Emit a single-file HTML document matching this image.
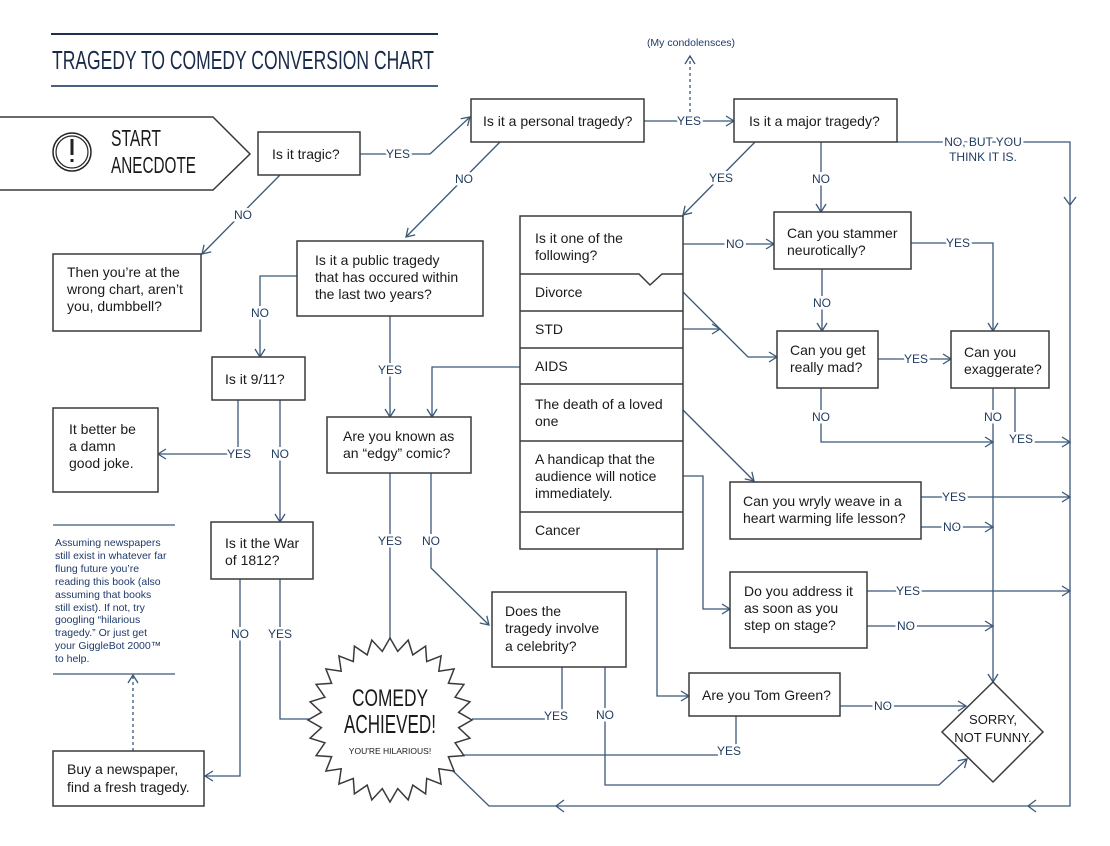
<!DOCTYPE html>
<html><head><meta charset="utf-8">
<style>
html,body{margin:0;padding:0;background:#fff;}
svg{display:block;}
.b{fill:#fff;stroke:#3a3a3a;stroke-width:1.5;}
.t{font-family:"Liberation Sans",sans-serif;font-size:14px;fill:#1a1a1a;}
.l{fill:none;stroke:#3b5878;stroke-width:1.3;}
.lb{font-family:"Liberation Sans Narrow","Liberation Sans",sans-serif;font-size:12px;fill:#1f3a5f;text-anchor:middle;stroke:#fff;stroke-width:5px;paint-order:stroke;}
.n{font-family:"Liberation Sans",sans-serif;font-size:10.5px;fill:#1f3a6a;}
</style></head>
<body>
<svg width="1110" height="846" viewBox="0 0 1110 846" xmlns="http://www.w3.org/2000/svg">
<defs>
<marker id="a" markerUnits="userSpaceOnUse" markerWidth="12" markerHeight="12" refX="9" refY="6" orient="auto">
<path d="M1,1 L9,6 L1,11" fill="none" stroke="#3b5878" stroke-width="1.3"/>
</marker>
</defs>

<!-- title -->
<line x1="51" y1="34" x2="438" y2="34" stroke="#1f2f50" stroke-width="2"/>
<line x1="51" y1="86" x2="438" y2="86" stroke="#4a6080" stroke-width="2"/>
<text x="52" y="69" font-family="'Liberation Sans Narrow','Liberation Sans',sans-serif" font-size="26" fill="#1a2a4a" textLength="382" lengthAdjust="spacingAndGlyphs">TRAGEDY TO COMEDY CONVERSION CHART</text>

<!-- start -->
<path d="M0,117 H213 L250,154 L213,190 H0" class="b"/>
<circle cx="72" cy="152" r="19" fill="none" stroke="#222" stroke-width="1.5"/>
<circle cx="72" cy="152" r="16" fill="none" stroke="#222" stroke-width="1.2"/>
<rect x="70.5" y="139" width="3" height="16" fill="#222"/>
<rect x="70.5" y="159" width="3" height="3" fill="#222"/>
<text x="111" y="146" font-family="'Liberation Sans Narrow','Liberation Sans',sans-serif" font-size="23" fill="#1a1a1a" textLength="50" lengthAdjust="spacingAndGlyphs">START</text>
<text x="111" y="173" font-family="'Liberation Sans Narrow','Liberation Sans',sans-serif" font-size="23" fill="#1a1a1a" textLength="85" lengthAdjust="spacingAndGlyphs">ANECDOTE</text>

<!-- connectors -->
<g class="l">
<path d="M360,154 H430 L470,117" marker-end="url(#a)"/>
<path d="M280,175 L202,254" marker-end="url(#a)"/>
<path d="M500,142 L406,237" marker-end="url(#a)"/>
<path d="M644,121 H734" marker-end="url(#a)"/>
<path d="M690,112 V56" stroke-dasharray="3,3" marker-end="url(#a)"/>
<path d="M897,142 H1070 V806 H489 L452,770"/>
<polyline points="1064,197 1070,205 1076,197"/>
<polyline points="1036,800 1028,806 1036,812"/>
<polyline points="564,800 556,806 564,812"/>
<path d="M755,142 L683,215" marker-end="url(#a)"/>
<path d="M821,142 V212" marker-end="url(#a)"/>
<path d="M297,276 H260 V357" marker-end="url(#a)"/>
<path d="M390,316 V417" marker-end="url(#a)"/>
<path d="M520,367 H432 V417" marker-end="url(#a)"/>
<path d="M683,244 H774" marker-end="url(#a)"/>
<path d="M911,243 H993 V331" marker-end="url(#a)"/>
<path d="M822,269 V331" marker-end="url(#a)"/>
<path d="M878,359 H951" marker-end="url(#a)"/>
<path d="M683,292 L748,357 H777" marker-end="url(#a)"/>
<path d="M683,329 H720" marker-end="url(#a)"/>
<path d="M821,388 V442 H993" marker-end="url(#a)"/>
<path d="M993,388 V682" marker-end="url(#a)"/>
<path d="M1015,388 V442 H1070" marker-end="url(#a)"/>
<path d="M683,410 L754,481" marker-end="url(#a)"/>
<path d="M683,476 H703 V609 H730" marker-end="url(#a)"/>
<path d="M921,497 H1070" marker-end="url(#a)"/>
<path d="M921,527 H993" marker-end="url(#a)"/>
<path d="M867,591 H1070" marker-end="url(#a)"/>
<path d="M867,626 H993" marker-end="url(#a)"/>
<path d="M657,549 V696 H689" marker-end="url(#a)"/>
<path d="M840,706 H966" marker-end="url(#a)"/>
<path d="M736,716 V755 H463"/>
<path d="M562,667 V719 H472"/>
<path d="M605,667 V785 H939 L967,759" marker-end="url(#a)"/>
<path d="M390,473 V640"/>
<path d="M431,473 V568 L489,625" marker-end="url(#a)"/>
<path d="M238,400 V454 H158" marker-end="url(#a)"/>
<path d="M280,400 V522" marker-end="url(#a)"/>
<path d="M240,579 V776 H205" marker-end="url(#a)"/>
<path d="M280,579 V719 H310"/>
<path d="M133,751 V675" stroke-dasharray="3,3" marker-end="url(#a)"/>
</g>

<!-- labels -->
<g class="lb">
<text x="398" y="158">YES</text>
<text x="243" y="219">NO</text>
<text x="464" y="183">NO</text>
<text x="689" y="125">YES</text>
<text x="983" y="146">NO, BUT YOU</text>
<text x="983" y="161">THINK IT IS.</text>
<text x="721" y="182">YES</text>
<text x="821" y="183">NO</text>
<text x="260" y="317">NO</text>
<text x="390" y="374">YES</text>
<text x="735" y="248">NO</text>
<text x="958" y="247">YES</text>
<text x="822" y="307">NO</text>
<text x="916" y="363">YES</text>
<text x="821" y="421">NO</text>
<text x="993" y="421">NO</text>
<text x="1021" y="443">YES</text>
<text x="954" y="501">YES</text>
<text x="952" y="531">NO</text>
<text x="908" y="595">YES</text>
<text x="906" y="630">NO</text>
<text x="883" y="710">NO</text>
<text x="729" y="755">YES</text>
<text x="556" y="720">YES</text>
<text x="605" y="719">NO</text>
<text x="390" y="545">YES</text>
<text x="431" y="545">NO</text>
<text x="239" y="458">YES</text>
<text x="280" y="458">NO</text>
<text x="240" y="638">NO</text>
<text x="280" y="638">YES</text>
</g>
<text x="691" y="46" class="n" text-anchor="middle">(My condolensces)</text>

<!-- boxes -->
<rect x="258" y="132" width="102" height="43" class="b"/>
<text x="272" y="159" class="t">Is it tragic?</text>
<rect x="471" y="99" width="173" height="43" class="b"/>
<text x="483" y="126" class="t">Is it a personal tragedy?</text>
<rect x="734" y="99" width="163" height="43" class="b"/>
<text x="749" y="126" class="t">Is it a major tragedy?</text>

<rect x="53" y="254" width="148" height="77" class="b"/>
<text class="t"><tspan x="67" y="277">Then you’re at the</tspan><tspan x="67" y="294">wrong chart, aren’t</tspan><tspan x="67" y="311">you, dumbbell?</tspan></text>

<rect x="297" y="241" width="186" height="75" class="b"/>
<text class="t"><tspan x="315" y="265">Is it a public tragedy</tspan><tspan x="315" y="282">that has occured within</tspan><tspan x="315" y="299">the last two years?</tspan></text>

<rect x="212" y="357" width="93" height="43" class="b"/>
<text x="225" y="384" class="t">Is it 9/11?</text>

<rect x="53" y="408" width="105" height="84" class="b"/>
<text class="t"><tspan x="69" y="434">It better be</tspan><tspan x="69" y="451">a damn</tspan><tspan x="69" y="468">good joke.</tspan></text>

<rect x="327" y="417" width="144" height="56" class="b"/>
<text class="t"><tspan x="343" y="441">Are you known as</tspan><tspan x="343" y="458">an “edgy” comic?</tspan></text>

<rect x="211" y="522" width="102" height="57" class="b"/>
<text class="t"><tspan x="225" y="548">Is it the War</tspan><tspan x="225" y="565">of 1812?</tspan></text>

<line x1="53" y1="525" x2="175" y2="525" stroke="#3b5878" stroke-width="1.3"/>
<line x1="53" y1="674" x2="175" y2="674" stroke="#3b5878" stroke-width="1.3"/>
<text class="n"><tspan x="55" y="546">Assuming newspapers</tspan><tspan x="55" y="559">still exist in whatever far</tspan><tspan x="55" y="572">flung future you’re</tspan><tspan x="55" y="585">reading this book (also</tspan><tspan x="55" y="598">assuming that books</tspan><tspan x="55" y="611">still exist). If not, try</tspan><tspan x="55" y="623">googling “hilarious</tspan><tspan x="55" y="636">tragedy.” Or just get</tspan><tspan x="55" y="649">your GiggleBot 2000™</tspan><tspan x="55" y="662">to help.</tspan></text>

<rect x="53" y="751" width="151" height="55" class="b"/>
<text class="t"><tspan x="67" y="774">Buy a newspaper,</tspan><tspan x="67" y="792">find a fresh tragedy.</tspan></text>

<rect x="492" y="592" width="134" height="75" class="b"/>
<text class="t"><tspan x="505" y="616">Does the</tspan><tspan x="505" y="633">tragedy involve</tspan><tspan x="505" y="651">a celebrity?</tspan></text>

<!-- list -->
<rect x="520" y="216" width="163" height="333" class="b"/>
<g stroke="#3a3a3a" stroke-width="1.5" fill="none">
<polyline points="520,274 639,274 650,285 662,274 683,274"/>
<line x1="520" y1="311" x2="683" y2="311"/>
<line x1="520" y1="348" x2="683" y2="348"/>
<line x1="520" y1="384" x2="683" y2="384"/>
<line x1="520" y1="441" x2="683" y2="441"/>
<line x1="520" y1="512" x2="683" y2="512"/>
</g>
<text class="t"><tspan x="535" y="243">Is it one of the</tspan><tspan x="535" y="260">following?</tspan>
<tspan x="535" y="297">Divorce</tspan><tspan x="535" y="334">STD</tspan><tspan x="535" y="371">AIDS</tspan>
<tspan x="535" y="409">The death of a loved</tspan><tspan x="535" y="426">one</tspan>
<tspan x="535" y="464">A handicap that the</tspan><tspan x="535" y="481">audience will notice</tspan><tspan x="535" y="498">immediately.</tspan>
<tspan x="535" y="535">Cancer</tspan></text>

<rect x="774" y="212" width="137" height="57" class="b"/>
<text class="t"><tspan x="787" y="238">Can you stammer</tspan><tspan x="787" y="255">neurotically?</tspan></text>
<rect x="777" y="331" width="101" height="57" class="b"/>
<text class="t"><tspan x="790" y="355">Can you get</tspan><tspan x="790" y="372">really mad?</tspan></text>
<rect x="951" y="331" width="98" height="57" class="b"/>
<text class="t"><tspan x="964" y="357">Can you</tspan><tspan x="964" y="374">exaggerate?</tspan></text>
<rect x="730" y="482" width="191" height="57" class="b"/>
<text class="t"><tspan x="743" y="506">Can you wryly weave in a</tspan><tspan x="743" y="523">heart warming life lesson?</tspan></text>
<rect x="730" y="572" width="137" height="76" class="b"/>
<text class="t"><tspan x="744" y="596">Do you address it</tspan><tspan x="744" y="613">as soon as you</tspan><tspan x="744" y="630">step on stage?</tspan></text>
<rect x="689" y="673" width="151" height="43" class="b"/>
<text x="702" y="700" class="t">Are you Tom Green?</text>

<polygon points="993,682 1043,732 993,782 942,732" class="b"/>
<text font-family="'Liberation Sans Narrow','Liberation Sans',sans-serif" font-size="13" fill="#1a1a1a" text-anchor="middle"><tspan x="993" y="724">SORRY,</tspan><tspan x="993" y="742">NOT FUNNY.</tspan></text>

<!-- star -->
<polygon id="star" class="b" points=""/>
<text x="390" y="706" text-anchor="middle" font-family="'Liberation Sans Narrow','Liberation Sans',sans-serif" font-size="24" fill="#1a1a1a" textLength="76" lengthAdjust="spacingAndGlyphs">COMEDY</text>
<text x="390" y="733" text-anchor="middle" font-family="'Liberation Sans Narrow','Liberation Sans',sans-serif" font-size="26" fill="#1a1a1a" textLength="92" lengthAdjust="spacingAndGlyphs">ACHIEVED!</text>
<text x="390" y="754" text-anchor="middle" font-family="'Liberation Sans',sans-serif" font-size="8.5" fill="#1a1a1a">YOU'RE HILARIOUS!</text>
</svg>
<script>
(function(){var cx=390,cy=720,R=82,r=69,n=28,p=[];
for(var i=0;i<n*2;i++){var a=-Math.PI/2+i*Math.PI/n,rad=i%2?r:R;
p.push((cx+rad*Math.cos(a)).toFixed(1)+","+(cy+rad*Math.sin(a)).toFixed(1));}
document.getElementById("star").setAttribute("points",p.join(" "));})();
</script>
</body></html>
